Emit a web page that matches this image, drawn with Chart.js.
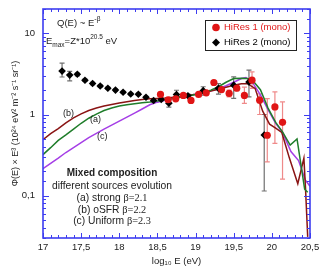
<!DOCTYPE html>
<html>
<head>
<meta charset="utf-8">
<script src="https://cdn.jsdelivr.net/npm/chart.js@4.4.1/dist/chart.umd.min.js"></script>
<style>
  html, body { margin: 0; padding: 0; background: #fff; }
  canvas { display: block; }
</style>
</head>
<body>
<canvas id="chart" width="327" height="275"></canvas>
<script>
// ================= DATA =================
// HiRes 1 (mono), red circles
const hr1X  = [18.54, 18.64, 18.74, 18.84, 18.94, 19.04, 19.14, 19.24, 19.34, 19.44, 19.54, 19.64, 19.74, 19.84, 19.94, 20.04, 20.14];
const hr1Y  = [1.77, 1.52, 1.56, 1.72, 1.49, 1.77, 1.85, 2.48, 2.03, 1.82, 2.11, 1.72, 2.65, 1.50, 0.555, 1.24, 0.80];
const hr1Hi = [1.84, 1.58, 1.63, 1.80, 1.57, 1.86, 1.95, 2.62, 2.16, 2.00, 2.28, 2.18, 3.35, 1.80, 1.57, 1.90, 1.43];
const hr1Lo = [1.70, 1.46, 1.49, 1.64, 1.41, 1.68, 1.75, 2.34, 1.90, 1.65, 1.95, 1.37, 2.10, 1.00, 0.26, 0.44, 0.16];

// HiRes 2 (mono), black diamonds
const hr2X  = [17.25, 17.35, 17.45, 17.55, 17.65, 17.75, 17.85, 17.95, 18.05, 18.15, 18.25, 18.35, 18.45, 18.55, 18.65, 18.75, 18.9, 19.1, 19.3, 19.5, 19.7, 19.9];
const hr2Y  = [3.43, 3.06, 3.13, 2.65, 2.41, 2.25, 2.11, 2.00, 1.88, 1.79, 1.78, 1.63, 1.49, 1.53, 1.38, 1.76, 1.70, 1.97, 2.10, 2.30, 2.52, 0.56];
const hr2Hi = [4.30, 3.40, 3.25, 2.74, 2.49, 2.32, 2.17, 2.06, 1.93, 1.84, 1.83, 1.68, 1.54, 1.58, 1.53, 1.99, 1.78, 2.20, 2.40, 2.91, 3.52, 1.00];
const hr2Lo = [2.90, 2.60, 3.00, 2.56, 2.33, 2.18, 2.05, 1.94, 1.83, 1.74, 1.73, 1.58, 1.44, 1.48, 1.23, 1.56, 1.62, 1.73, 1.78, 1.58, 1.65, 0.114];

// model (a) strong, beta = 2.1 (green)
const curveAX = [17.0, 17.1, 17.2, 17.3, 17.4, 17.5, 17.6, 17.7, 17.8, 17.9, 18.0, 18.1, 18.2, 18.3, 18.4, 18.5, 18.6, 18.7, 18.8, 18.9, 19.0, 19.1, 19.2, 19.3, 19.4, 19.5, 19.6, 19.68, 19.75, 19.85, 19.95, 20.05, 20.14, 20.24, 20.33, 20.43, 20.47];
const curveAY = [0.32, 0.39, 0.48, 0.56, 0.66, 0.78, 0.90, 1.01, 1.12, 1.20, 1.27, 1.32, 1.36, 1.40, 1.43, 1.47, 1.52, 1.57, 1.63, 1.69, 1.77, 1.87, 2.00, 2.20, 2.50, 2.78, 2.80, 2.78, 2.62, 2.02, 1.20, 0.80, 0.61, 0.42, 0.50, 0.12, 0.11];

// model (b) oSFR, beta = 2.2 (dark red)
const curveBX = [17.0, 17.1, 17.2, 17.3, 17.4, 17.5, 17.6, 17.7, 17.8, 17.9, 18.0, 18.1, 18.2, 18.3, 18.4, 18.5, 18.6, 18.7, 18.8, 18.9, 19.0, 19.1, 19.2, 19.3, 19.4, 19.5, 19.6, 19.68, 19.78, 19.88, 19.97, 20.05, 20.13, 20.23, 20.34, 20.42, 20.44, 20.47];
const curveBY = [0.49, 0.58, 0.67, 0.79, 0.91, 1.02, 1.12, 1.20, 1.27, 1.33, 1.39, 1.44, 1.49, 1.53, 1.56, 1.58, 1.60, 1.63, 1.67, 1.72, 1.78, 1.86, 1.95, 2.05, 2.17, 2.30, 2.40, 2.40, 2.10, 1.10, 0.76, 0.68, 0.60, 0.29, 0.14, 0.29, 0.13, 0.031];

// model (c) Uniform, beta = 2.3 (purple)
const curveCX = [17.0, 17.1, 17.2, 17.3, 17.4, 17.5, 17.6, 17.7, 17.8, 17.9, 18.0, 18.1, 18.2, 18.3, 18.4, 18.5, 18.6, 18.7, 18.8, 18.9, 19.0, 19.1, 19.2, 19.3, 19.4, 19.5, 19.6, 19.66, 19.75, 19.85, 19.95, 20.05, 20.14, 20.25, 20.35, 20.44, 20.5];
const curveCY = [0.215, 0.25, 0.29, 0.34, 0.39, 0.45, 0.52, 0.585, 0.66, 0.74, 0.83, 0.93, 1.04, 1.17, 1.32, 1.42, 1.50, 1.57, 1.64, 1.71, 1.78, 1.86, 1.96, 2.08, 2.26, 2.50, 2.78, 2.86, 2.45, 1.75, 1.15, 0.78, 0.60, 0.35, 0.27, 0.155, 0.13];

const xMin = 17, xMax = 20.5;
const yMin = 0.03, yMax = 20;
const yLabels = { "0.1": "0,1", "1": "1", "10": "10" };

// ================= STYLE =================
const AXIS_COLOR = "#3d3df0";
const RED = "#e01515";
const RED_ERR = "#ef8a8a";
const BLACK = "#000000";
const BLACK_ERR = "#707070";
const GREEN = "#1f7d2a";
const MAROON = "#8a1414";
const PURPLE = "#a53ee6";
const FONT = "'Liberation Sans', Arial, Helvetica, sans-serif";
const SERIF = "'Liberation Serif', 'Times New Roman', serif";

const zip = (xs, ys) => xs.map((x, i) => ({ x, y: ys[i] }));

// ================= PLUGINS =================
const errorBars = {
  id: "errorBars",
  beforeDatasetsDraw(chart) {
    const { ctx, scales: { x, y } } = chart;
    const draw = (xs, hi, lo, color) => {
      ctx.strokeStyle = color;
      ctx.lineWidth = 1.2;
      xs.forEach((v, i) => {
        const px = x.getPixelForValue(v);
        const top = y.getPixelForValue(hi[i]);
        const bot = y.getPixelForValue(lo[i]);
        ctx.beginPath();
        ctx.moveTo(px, top); ctx.lineTo(px, bot);
        ctx.moveTo(px - 2.5, top); ctx.lineTo(px + 2.5, top);
        ctx.moveTo(px - 2.5, bot); ctx.lineTo(px + 2.5, bot);
        ctx.stroke();
      });
    };
    ctx.save();
    draw(hr2X, hr2Hi, hr2Lo, BLACK_ERR);
    draw(hr1X, hr1Hi, hr1Lo, RED_ERR);
    ctx.restore();
  }
};

const frameAndTicks = {
  id: "frameAndTicks",
  afterDatasetsDraw(chart) {
    const { ctx, chartArea: a, scales: { x, y } } = chart;
    ctx.save();
    ctx.strokeStyle = AXIS_COLOR;
    ctx.lineWidth = 1;
    ctx.beginPath();
    x.ticks.forEach(t => {
      const px = Math.round(x.getPixelForValue(t.value)) + 0.5;
      const major = Math.abs(t.value * 2 - Math.round(t.value * 2)) < 1e-6;
      const len = major ? 5 : 3;
      ctx.moveTo(px, a.bottom); ctx.lineTo(px, a.bottom - len);
      ctx.moveTo(px, a.top); ctx.lineTo(px, a.top + len);
    });
    y.ticks.forEach(t => {
      const py = Math.round(y.getPixelForValue(t.value)) + 0.5;
      const lg = Math.log10(t.value);
      const major = Math.abs(lg - Math.round(lg)) < 1e-6;
      const len = major ? 6 : 3;
      ctx.moveTo(a.left, py); ctx.lineTo(a.left + len, py);
      ctx.moveTo(a.right, py); ctx.lineTo(a.right - len, py);
    });
    ctx.stroke();
    ctx.lineWidth = 1.6;
    ctx.strokeRect(a.left, a.top, a.right - a.left, a.bottom - a.top);
    ctx.restore();
  }
};

// text with super/subscript parts: [text, size, dy, weight, family]
function drawRich(ctx, x, y, parts, align) {
  let total = 0;
  parts.forEach(p => {
    ctx.font = `${p[3] || "normal"} ${p[1]}px ${p[4] || FONT}`;
    total += ctx.measureText(p[0]).width;
  });
  let cx = align === "center" ? x - total / 2 : x;
  parts.forEach(p => {
    ctx.font = `${p[3] || "normal"} ${p[1]}px ${p[4] || FONT}`;
    ctx.fillText(p[0], cx, y + (p[2] || 0));
    cx += ctx.measureText(p[0]).width;
  });
}

const annotations = {
  id: "annotations",
  afterDraw(chart) {
    const { ctx } = chart;
    ctx.save();
    ctx.fillStyle = "#222";
    ctx.textBaseline = "middle";
    ctx.textAlign = "left";

    drawRich(ctx, 57, 23, [["Q(E) ~ E", 9.5], ["-β", 7, -4]]);
    drawRich(ctx, 46, 41, [["E", 9.5], ["max", 6.5, 4], ["=Z*10", 9.5], ["20.5", 6.5, -4], [" eV", 9.5]]);

    ctx.font = `9px ${FONT}`;
    ctx.fillText("(b)", 63, 114);
    ctx.fillText("(a)", 90, 120);
    ctx.fillText("(c)", 97, 137);

    drawRich(ctx, 112, 173, [["Mixed composition", 10, 0, "bold"]], "center");
    drawRich(ctx, 112, 186, [["different sources evolution", 10.3]], "center");
    drawRich(ctx, 112, 198.5, [["(a) strong ", 10.3], ["β=2.1", 10.3, 0, "normal", SERIF]], "center");
    drawRich(ctx, 112, 210, [["(b) oSFR ", 10.3], ["β=2.2", 10.3, 0, "normal", SERIF]], "center");
    drawRich(ctx, 112, 221.5, [["(c) Uniform ", 10.3], ["β=2.3", 10.3, 0, "normal", SERIF]], "center");

    // legend box
    ctx.strokeStyle = "#222";
    ctx.lineWidth = 1;
    ctx.fillStyle = "#fff";
    ctx.fillRect(205.5, 20.5, 91, 30);
    ctx.strokeRect(205.5, 20.5, 91, 30);
    const ds = chart.data.datasets;
    [[ds[0], 27.5], [ds[1], 42.5]].forEach(([d, ly]) => {
      ctx.fillStyle = d.backgroundColor;
      ctx.beginPath();
      if (d.pointStyle === "rectRot") {
        ctx.moveTo(216, ly - 4); ctx.lineTo(220, ly); ctx.lineTo(216, ly + 4); ctx.lineTo(212, ly);
      } else {
        ctx.arc(216, ly, 3.8, 0, Math.PI * 2);
      }
      ctx.fill();
      ctx.font = `9.5px ${FONT}`;
      ctx.fillText(d.label, 224, ly);
    });
    ctx.restore();
  }
};

// ================= CHART =================
new Chart(document.getElementById("chart"), {
  type: "scatter",
  data: {
    datasets: [
      {
        label: "HiRes 1 (mono)",
        data: zip(hr1X, hr1Y),
        backgroundColor: RED,
        borderColor: RED,
        pointStyle: "circle",
        pointRadius: 3.6,
        borderWidth: 0
      },
      {
        label: "HiRes 2 (mono)",
        data: zip(hr2X, hr2Y),
        backgroundColor: BLACK,
        borderColor: BLACK,
        pointStyle: "rectRot",
        pointRadius: 3.8,
        borderWidth: 0
      },
      {
        label: "(a)",
        data: zip(curveAX, curveAY),
        showLine: true, borderColor: GREEN, borderWidth: 1.5, pointRadius: 0, tension: 0
      },
      {
        label: "(b)",
        data: zip(curveBX, curveBY),
        showLine: true, borderColor: MAROON, borderWidth: 1.5, pointRadius: 0, tension: 0
      },
      {
        label: "(c)",
        data: zip(curveCX, curveCY),
        showLine: true, borderColor: PURPLE, borderWidth: 1.5, pointRadius: 0, tension: 0
      }
    ]
  },
  options: {
    responsive: false,
    devicePixelRatio: 1,
    animation: false,
    events: [],
    layout: { padding: { left: 0, right: 17, top: 9, bottom: 0 } },
    plugins: {
      legend: { display: false },
      tooltip: { enabled: false }
    },
    scales: {
      x: {
        type: "linear",
        min: xMin,
        max: xMax,
        grid: { display: false, drawTicks: false },
        border: { display: false },
        afterFit: s => { s.height = 37; s.paddingLeft = 0; s.paddingRight = 0; },
        ticks: {
          stepSize: 0.1,
          autoSkip: false,
          maxRotation: 0,
          padding: 4,
          color: "#222",
          font: { family: FONT, size: 9.5 },
          callback: v => {
            const r = Math.round(v * 2) / 2;
            if (Math.abs(v - r) > 1e-6) return "";
            return String(r).replace(".", ",");
          }
        },
        title: {
          display: true,
          text: "log₁₀ E (eV)",
          color: "#222",
          font: { family: FONT, size: 9.5 },
          padding: { top: 0, bottom: 8 }
        }
      },
      y: {
        type: "logarithmic",
        min: yMin,
        max: yMax,
        grid: { display: false, drawTicks: false },
        border: { display: false },
        afterFit: s => { s.width = 43; s.paddingTop = 0; s.paddingBottom = 0; },
        ticks: {
          autoSkip: false,
          padding: 8,
          color: "#222",
          font: { family: FONT, size: 9.5 },
          callback: v => {
            const key = Object.keys(yLabels).find(k => Math.abs(parseFloat(k) - v) < 1e-9);
            return key ? yLabels[key] : "";
          }
        },
        title: {
          display: true,
          text: "Φ(E) × E³ (10²⁴ eV² m⁻² s⁻¹ sr⁻¹)",
          color: "#222",
          font: { family: FONT, size: 9 },
          padding: { top: 10, bottom: 0 }
        }
      }
    }
  },
  plugins: [errorBars, frameAndTicks, annotations]
});
</script>
</body>
</html>
